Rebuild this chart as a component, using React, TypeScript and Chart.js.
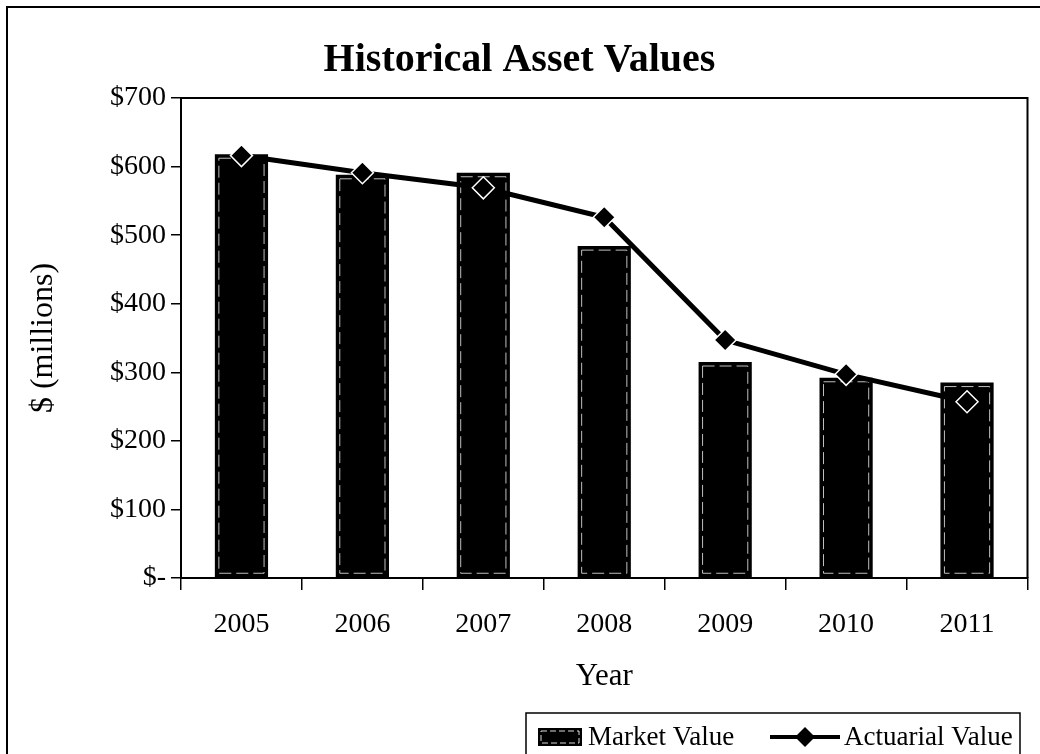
import React, { useEffect, useRef } from 'react';
import { Chart, registerables } from 'chart.js';

Chart.register(...registerables);

const years = ['2005', '2006', '2007', '2008', '2009', '2010', '2011'];
const marketValue = [618, 588, 591, 484, 315, 292, 285];
const actuarialValue = [616, 591, 569, 526, 347, 297, 257];
const yTickValues = [0, 100, 200, 300, 400, 500, 600, 700];
const legendLabels = ['Market Value', 'Actuarial Value'];
const titleText = 'Historical Asset Values';
const yTitle = '$ (millions)';
const xTitle = 'Year';

const SERIF = '"Liberation Serif", "Times New Roman", "DejaVu Serif", serif';

export default function App() {
  const ref = useRef<HTMLCanvasElement>(null);

  useEffect(() => {
    if (!ref.current) return;

    const decor = {
      id: 'decor',
      beforeDraw(chart: any) {
        const { ctx, width, height } = chart;
        ctx.save();
        ctx.fillStyle = '#fff';
        ctx.fillRect(0, 0, width, height);
        ctx.restore();
      },
      afterDatasetDraw(chart: any, args: any) {
        if (args.index !== 0) return;
        const { ctx } = chart;
        const meta = chart.getDatasetMeta(0);
        ctx.save();
        ctx.strokeStyle = 'rgba(255,255,255,0.75)';
        ctx.lineWidth = 1;
        ctx.setLineDash([12, 5]);
        meta.data.forEach((bar: any) => {
          const p = bar.getProps(['x', 'y', 'base', 'width'], true);
          const l = p.x - p.width / 2 + 4;
          const r = p.x + p.width / 2 - 4;
          ctx.strokeRect(l, p.y + 4, r - l, p.base - p.y - 8);
        });
        ctx.restore();
      },
      afterDraw(chart: any) {
        const { ctx, chartArea: a } = chart;
        ctx.save();
        ctx.strokeStyle = '#000';
        ctx.lineWidth = 2;
        // plot area top/right border
        ctx.beginPath();
        ctx.moveTo(a.left, a.top);
        ctx.lineTo(a.right, a.top);
        ctx.lineTo(a.right, a.bottom);
        ctx.stroke();
        // outer frame
        ctx.beginPath();
        ctx.moveTo(7, 760);
        ctx.lineTo(7, 7);
        ctx.lineTo(1045, 7);
        ctx.stroke();

        // legend
        const L = 526;
        const T = 713;
        const R = 1020;
        ctx.lineWidth = 1.5;
        ctx.strokeRect(L, T, R - L, 60);
        const cy = 737;
        // bar swatch
        ctx.fillStyle = '#000';
        ctx.fillRect(L + 12, cy - 9, 44, 18);
        ctx.strokeStyle = 'rgba(255,255,255,0.85)';
        ctx.lineWidth = 1;
        ctx.setLineDash([6, 3]);
        ctx.strokeRect(L + 15, cy - 6, 38, 12);
        ctx.setLineDash([]);
        ctx.fillStyle = '#000';
        ctx.font = `27px ${SERIF}`;
        ctx.textBaseline = 'middle';
        ctx.textAlign = 'left';
        ctx.fillText(legendLabels[0], L + 62, cy + 1);
        // line swatch
        const lx1 = L + 244;
        const lx2 = L + 314;
        ctx.strokeStyle = '#000';
        ctx.lineWidth = 4;
        ctx.beginPath();
        ctx.moveTo(lx1, cy);
        ctx.lineTo(lx2, cy);
        ctx.stroke();
        const dx = (lx1 + lx2) / 2;
        ctx.beginPath();
        ctx.moveTo(dx, cy - 10);
        ctx.lineTo(dx + 10, cy);
        ctx.lineTo(dx, cy + 10);
        ctx.lineTo(dx - 10, cy);
        ctx.closePath();
        ctx.fill();
        ctx.fillText(legendLabels[1], L + 318, cy + 1);
        ctx.restore();
      },
    };

    const chart = new Chart(ref.current, {
      type: 'bar',
      data: {
        labels: years,
        datasets: [
          {
            type: 'bar',
            label: legendLabels[0],
            data: marketValue,
            backgroundColor: '#000',
            borderColor: '#000',
            borderWidth: 0,
            barPercentage: 0.44,
            categoryPercentage: 1,
            order: 1,
          },
          {
            type: 'line',
            label: legendLabels[1],
            data: actuarialValue,
            borderColor: '#000',
            borderWidth: 5,
            tension: 0,
            pointStyle: 'rectRot',
            pointRadius: 11,
            pointBackgroundColor: '#000',
            pointBorderColor: '#fff',
            pointBorderWidth: 1.5,
            order: 0,
          } as any,
        ],
      },
      options: {
        responsive: true,
        maintainAspectRatio: false,
        animation: false,
        layout: { padding: { left: 8, right: 9, top: 0, bottom: 59 } },
        plugins: {
          legend: { display: false },
          tooltip: { enabled: false },
          title: {
            display: true,
            text: titleText,
            color: '#000',
            font: { family: SERIF, size: 40, weight: 'bold', lineHeight: 1.2 },
            padding: { top: 37, bottom: 13 },
          },
        },
        scales: {
          x: {
            offset: true,
            grid: {
              display: true,
              offset: true,
              drawOnChartArea: false,
              drawTicks: true,
              tickLength: 12,
              color: '#000',
              lineWidth: 1.5,
            },
            border: { display: true, color: '#000', width: 2 },
            ticks: {
              color: '#000',
              font: { family: SERIF, size: 28, lineHeight: 1.2 },
              padding: 18,
              maxRotation: 0,
            },
            title: {
              display: true,
              text: xTitle,
              color: '#000',
              font: { family: SERIF, size: 31, lineHeight: 1.2 },
              padding: { top: 0, bottom: 0 },
            },
            afterFit(scale: any) {
              scale.height = 117;
            },
          },
          y: {
            min: 0,
            max: 700,
            afterBuildTicks(scale: any) {
              scale.ticks = yTickValues.map((v) => ({ value: v }));
            },
            grid: {
              display: true,
              drawOnChartArea: false,
              drawTicks: true,
              tickLength: 10,
              color: '#000',
              lineWidth: 1.5,
            },
            border: { display: true, color: '#000', width: 2 },
            ticks: {
              color: '#000',
              font: { family: SERIF, size: 28, lineHeight: 1.2 },
              padding: 5,
              callback: (v: any) => (Number(v) === 0 ? '$-' : '$' + v),
            },
            title: {
              display: true,
              text: yTitle,
              color: '#000',
              font: { family: SERIF, size: 32, lineHeight: 1.2 },
              padding: { top: 16, bottom: 0 },
            },
            afterFit(scale: any) {
              scale.width = 173;
            },
          },
        },
      },
      plugins: [decor],
    });

    return () => chart.destroy();
  }, []);

  return (
    <div style={{ position: 'fixed', left: 0, top: 0, width: 1040, height: 754, background: '#fff' }}>
      <canvas ref={ref} />
    </div>
  );
}
